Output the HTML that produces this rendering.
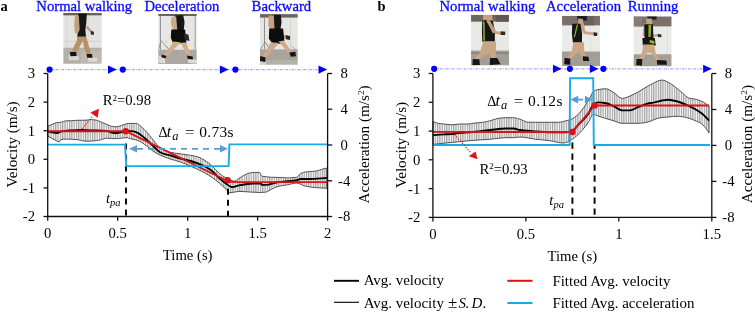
<!DOCTYPE html>
<html><head><meta charset="utf-8"><style>
html,body{margin:0;padding:0;background:#fff;width:755px;height:312px;overflow:hidden}
svg{display:block;will-change:transform}
text{font-family:"Liberation Serif", serif;}
</style></head><body>
<svg width="755" height="312" viewBox="0 0 755 312">
<defs>
<pattern id="stripe" patternUnits="userSpaceOnUse" width="2.3" height="10">
<rect width="2.3" height="10" fill="#f6f6f6"/>
<rect x="0" width="1.15" height="10" fill="#a2a2a2"/>
</pattern>
<filter id="soft" x="-5%" y="-5%" width="110%" height="110%"><feGaussianBlur stdDeviation="3.8"/></filter>
</defs>

<clipPath id="c1"><rect x="42" y="25" width="193" height="255"/></clipPath>
<g transform="translate(55,8) scale(0.19869)"><g clip-path="url(#c1)" filter="url(#soft)">
<rect x="0" y="0" width="260" height="300" fill="#e3e3e1" />
<rect x="0" y="20" width="260" height="17" fill="#6a6058" />
<rect x="58" y="38" width="3" height="162" fill="#cdcdcd" />
<rect x="165" y="38" width="3" height="162" fill="#d2d2d2" />
<rect x="0" y="165" width="260" height="5" fill="#cfcfcf" />
<rect x="0" y="200" width="260" height="90" fill="#b4afa7" />
<rect x="130" y="215" width="130" height="70" fill="#bebab2" />
<polygon points="118,28 160,28 158,70 153,110 156,148 112,150 116,100 113,60" fill="#141414" />
<polygon points="100,40 120,38 124,110 115,130 100,126 97,80" fill="#c49e80" />
<polygon points="153,95 164,91 191,119 183,128" fill="#b89c84" />
<polygon points="180,116 196,119 195,136 180,134" fill="#2a2a35" />
<polygon points="110,144 158,144 163,172 140,168 112,168" fill="#b69363" />
<polygon points="112,160 141,164 108,226 84,229 92,200" fill="#b69363" />
<polygon points="139,160 163,165 182,235 162,240 146,200" fill="#b69363" />
<polygon points="68,238 118,240 121,262 70,263" fill="#d9d7d3" />
<polygon points="165,247 212,250 215,269 168,269" fill="#dbd9d5" />
<polygon points="75,222 106,222 109,241 78,243" fill="#141414" />
<polygon points="159,232 186,231 189,251 162,251" fill="#141414" />
</g></g>
<clipPath id="c2"><rect x="520" y="30" width="193" height="252"/></clipPath>
<g transform="translate(55,8) scale(0.19869)"><g clip-path="url(#c2)" filter="url(#soft)">
<rect x="500" y="0" width="260" height="300" fill="#e6e6e4" />
<rect x="500" y="30" width="260" height="10" fill="#665d55" />
<rect x="528" y="40" width="5" height="172" fill="#8e8e8e" />
<rect x="703" y="40" width="5" height="172" fill="#9c9c9c" />
<polygon points="533,165 536,165 578,210 574,212" fill="#808080" />
<polygon points="533,165 536,165 522,212 518,210" fill="#808080" />
<rect x="557" y="167" width="7" height="7" fill="#d7cf55" />
<rect x="695" y="172" width="7" height="7" fill="#d7cf55" />
<rect x="500" y="210" width="260" height="90" fill="#aca89f" />
<polygon points="602,38 645,35 652,70 648,112 600,112" fill="#141414" />
<polygon points="586,45 610,42 616,118 603,129 583,80" fill="#cfa789" />
<polygon points="585,108 655,108 661,175 595,181 583,150" fill="#0f0f0f" />
<polygon points="646,128 671,133 677,166 655,161" fill="#2c2c2c" />
<polygon points="590,169 630,172 628,182 590,181" fill="#cfc64a" />
<polygon points="592,176 629,178 576,230 549,249 539,236 570,212" fill="#d2aa8d" />
<polygon points="632,175 661,174 681,234 689,250 668,253 655,220" fill="#d2aa8d" />
<polygon points="523,240 556,248 553,279 521,276" fill="#dadada" />
<polygon points="538,234 561,242 556,254 535,248" fill="#141414" />
<polygon points="668,254 712,261 711,279 672,277" fill="#dcdcdc" />
<polygon points="664,239 693,244 694,259 668,257" fill="#141414" />
</g></g>
<clipPath id="c3"><rect x="52" y="30" width="196" height="265"/></clipPath>
<g transform="translate(250,8) scale(0.19231)"><g clip-path="url(#c3)" filter="url(#soft)">
<rect x="0" y="0" width="260" height="320" fill="#e6e6e4" />
<rect x="0" y="32" width="260" height="18" fill="#6c645c" />
<rect x="73" y="50" width="5" height="165" fill="#8d8d8d" />
<rect x="208" y="50" width="3" height="165" fill="#c8c8c8" />
<polygon points="76,175 80,175 107,216 102,218" fill="#888" />
<polygon points="76,175 80,175 56,216 52,214" fill="#888" />
<polygon points="210,195 213,195 248,222 244,224" fill="#999" />
<rect x="0" y="215" width="260" height="90" fill="#a9a59d" />
<rect x="0" y="272" width="260" height="30" fill="#b6b2aa" />
<polygon points="115,35 160,35 164,75 158,112 112,112 108,60" fill="#141414" />
<polygon points="97,40 124,38 128,118 115,136 95,90" fill="#c89f81" />
<polygon points="127,111 196,149 190,161 121,126" fill="#c9a385" />
<polygon points="185,141 209,146 208,166 187,163" fill="#2c2c2c" />
<polygon points="100,106 172,106 179,170 160,186 118,186 98,160" fill="#0f0f0f" />
<polygon points="108,178 151,182 88,252 70,271 57,258 82,225" fill="#d0a88b" />
<polygon points="148,174 176,169 216,228 229,242 212,251 190,222" fill="#d0a88b" />
<polygon points="48,272 83,279 81,296 48,294" fill="#d0d0d0" />
<polygon points="54,250 81,258 79,281 51,276" fill="#141414" />
<polygon points="204,232 236,227 239,251 212,253" fill="#141414" />
</g></g>
<clipPath id="c4"><rect x="12" y="5" width="223" height="296"/></clipPath>
<g transform="translate(469,14) scale(0.17007)"><g clip-path="url(#c4)" filter="url(#soft)">
<rect x="0" y="0" width="250" height="320" fill="#e8e8e5" />
<rect x="0" y="5" width="250" height="40" fill="#6e655d" />
<rect x="160" y="5" width="80" height="40" fill="#625952" />
<rect x="0" y="215" width="250" height="100" fill="#a29d95" />
<rect x="0" y="225" width="250" height="10" fill="#8a857d" />
<polygon points="84,5 136,5 140,40 148,100 200,106 204,120 140,118 100,95 82,40" fill="#c8a27e" />
<polygon points="78,39 100,34 140,40 152,100 152,163 78,163 76,100" fill="#131313" />
<polygon points="82,44 92,44 94,157 84,157" fill="#86a030" />
<polygon points="101,44 107,42 148,88 144,94" fill="#86a030" />
<polygon points="100,34 118,30 156,96 150,116 138,110" fill="#c39d7a" />
<polygon points="186,101 214,104 212,124 186,123" fill="#2a2a2a" />
<polygon points="84,160 158,160 160,205 154,238 118,232 62,262 46,280 30,268 64,226" fill="#c8a884" />
<polygon points="126,228 158,226 156,270 130,270" fill="#c8a884" />
<polygon points="22,265 61,266 64,302 20,304" fill="#141414" />
<polygon points="124,259 166,259 186,296 122,300" fill="#141414" />
</g></g>
<clipPath id="c5"><rect x="12" y="5" width="223" height="295"/></clipPath>
<g transform="translate(560,15) scale(0.17007)"><g clip-path="url(#c5)" filter="url(#soft)">
<rect x="0" y="0" width="250" height="320" fill="#eaeae8" />
<rect x="0" y="5" width="250" height="56" fill="#7a7069" />
<rect x="130" y="5" width="70" height="56" fill="#6a625b" />
<rect x="90" y="61" width="3" height="155" fill="#d2d2d2" />
<rect x="178" y="61" width="3" height="155" fill="#d6d6d6" />
<rect x="0" y="215" width="250" height="100" fill="#a29d95" />
<polygon points="100,5 160,8 158,33 104,35" fill="#1e1e24" />
<polygon points="106,21 135,24 138,57 108,58" fill="#c8a282" />
<polygon points="118,55 140,52 150,95 214,106 214,120 140,112 124,85" fill="#caa382" />
<polygon points="197,101 220,104 218,123 199,123" fill="#2b2b30" />
<polygon points="72,52 120,52 130,110 129,163 76,163 70,110" fill="#121212" />
<polygon points="99,55 106,57 88,131 81,129" fill="#93b22e" />
<polygon points="78,160 140,160 142,205 152,248 129,252 112,216 86,236 61,266 38,262 70,212" fill="#caa885" />
<polygon points="27,253 61,256 60,293 25,290" fill="#141414" />
<polygon points="134,242 167,246 172,271 136,270" fill="#141414" />
</g></g>
<clipPath id="c6"><rect x="10" y="8" width="222" height="293"/></clipPath>
<g transform="translate(632,15) scale(0.17007)"><g clip-path="url(#c6)" filter="url(#soft)">
<rect x="0" y="0" width="250" height="320" fill="#eaeae8" />
<rect x="0" y="8" width="250" height="59" fill="#7a7069" />
<rect x="0" y="8" width="60" height="59" fill="#857b73" />
<rect x="205" y="67" width="3" height="165" fill="#d0d0d0" />
<rect x="0" y="231" width="250" height="100" fill="#a29d95" />
<polygon points="89,8 146,8 144,27 92,30" fill="#1e1e24" />
<polygon points="83,21 117,21 120,61 86,62" fill="#c8a282" />
<polygon points="70,50 92,50 88,116 160,112 162,126 84,130 62,122" fill="#caa382" />
<polygon points="151,112 174,114 172,131 153,130" fill="#2b2b30" />
<polygon points="72,55 123,55 126,140 74,140" fill="#121212" />
<polygon points="97,58 113,58 110,130 96,130" fill="#8fb02c" />
<polygon points="61,135 134,135 140,180 64,182" fill="#121212" />
<polygon points="106,146 134,154 130,170 102,162" fill="#8fb02c" />
<polygon points="66,174 130,174 140,230 164,266 146,274 118,226 92,220 62,266 42,262 60,216" fill="#caa885" />
<polygon points="27,259 61,259 58,299 24,294" fill="#141414" />
<polygon points="146,265 202,268 206,293 148,293" fill="#141414" />
</g></g>
<text x="0.6" y="10.7" font-size="14.5" font-weight="bold" fill="#000">a</text>
<text x="377.6" y="10.7" font-size="14.5" font-weight="bold" fill="#000">b</text>
<text x="36.3" y="11.4" font-size="14.7" fill="#0a0aff" stroke="#0a0aff" stroke-width="0.3">Normal walking</text>
<text x="144.4" y="11.4" font-size="14.7" fill="#0a0aff" stroke="#0a0aff" stroke-width="0.3">Deceleration</text>
<text x="251.6" y="11.4" font-size="14.7" fill="#0a0aff" stroke="#0a0aff" stroke-width="0.3">Backward</text>
<text x="439.5" y="11.4" font-size="14.7" fill="#0a0aff" stroke="#0a0aff" stroke-width="0.3">Normal walking</text>
<text x="546" y="11.4" font-size="14.7" fill="#0a0aff" stroke="#0a0aff" stroke-width="0.3">Acceleration</text>
<text x="627.8" y="11.4" font-size="14.7" fill="#0a0aff" stroke="#0a0aff" stroke-width="0.3">Running</text>
<line x1="49.6" y1="69.6" x2="327" y2="69.6" stroke="#2a2aff" stroke-width="1.3" stroke-dasharray="2.6 1.2 0.9 1.2" opacity="0.42"/>
<circle cx="49.6" cy="69.6" r="3.1" fill="#0000ff"/>
<circle cx="122.8" cy="69.6" r="3.1" fill="#0000ff"/>
<circle cx="235.4" cy="69.6" r="3.1" fill="#0000ff"/>
<path d="M108.0,65.5 L116.7,69.6 L108.0,73.69999999999999 Z" fill="#0000ff"/>
<path d="M219.9,65.5 L228.6,69.6 L219.9,73.69999999999999 Z" fill="#0000ff"/>
<path d="M318.5,65.5 L327.2,69.6 L318.5,73.69999999999999 Z" fill="#0000ff"/>
<line x1="434.2" y1="68.8" x2="711" y2="68.8" stroke="#2a2aff" stroke-width="1.3" stroke-dasharray="2.6 1.2 0.9 1.2" opacity="0.42"/>
<circle cx="434.2" cy="68.8" r="3.1" fill="#0000ff"/>
<circle cx="569.9" cy="68.8" r="3.1" fill="#0000ff"/>
<circle cx="603.4" cy="68.8" r="3.1" fill="#0000ff"/>
<path d="M553.0,64.7 L561.7,68.8 L553.0,72.89999999999999 Z" fill="#0000ff"/>
<path d="M589.9,64.7 L598.6,68.8 L589.9,72.89999999999999 Z" fill="#0000ff"/>
<path d="M703.0999999999999,64.7 L711.8,68.8 L703.0999999999999,72.89999999999999 Z" fill="#0000ff"/>
<path d="M47.70,126.30 C48.83,125.79 49.97,125.28 51.10,124.80 C52.83,124.06 54.57,123.04 56.30,122.70 C58.00,122.37 59.70,122.53 61.40,122.20 C62.77,121.93 64.13,120.99 65.50,120.90 C67.53,120.77 69.57,120.82 71.60,120.70 C73.33,120.60 75.07,120.34 76.80,120.30 C79.87,120.23 82.93,120.27 86.00,120.20 C87.70,120.16 89.40,119.60 91.10,119.60 C92.83,119.60 94.57,119.80 96.30,120.20 C98.00,120.59 99.70,121.52 101.40,122.20 C103.10,122.88 104.80,123.62 106.50,124.30 C108.20,124.98 109.90,125.97 111.60,126.30 C113.33,126.63 115.07,126.80 116.80,126.80 C118.50,126.80 120.20,125.82 121.90,125.30 C123.60,124.78 125.30,124.00 127.00,123.70 C128.13,123.50 129.27,123.40 130.40,123.40 C132.23,123.40 134.07,123.40 135.90,123.40 C137.70,123.40 139.50,125.25 141.30,126.70 C143.13,128.17 144.97,130.18 146.80,132.20 C148.60,134.19 150.40,136.50 152.20,138.70 C154.30,141.26 156.40,144.45 158.50,146.50 C162.43,150.35 166.37,151.14 170.30,152.30 C173.70,153.30 177.10,153.29 180.50,153.80 C183.93,154.32 187.37,154.76 190.80,155.40 C193.20,155.85 195.60,156.03 198.00,156.90 C200.33,157.75 202.67,158.98 205.00,160.50 C207.37,162.04 209.73,163.98 212.10,166.10 C214.47,168.22 216.83,171.19 219.20,173.20 C221.53,175.18 223.87,176.83 226.20,178.10 C228.97,179.61 231.73,181.10 234.50,181.10 C235.97,181.10 237.43,179.29 238.90,178.40 C240.73,177.29 242.57,176.02 244.40,175.10 C246.20,174.19 248.00,173.23 249.80,172.90 C251.63,172.57 253.47,172.40 255.30,172.40 C256.73,172.40 258.17,172.40 259.60,172.40 C260.33,172.40 261.07,176.03 261.80,176.20 C263.27,176.53 264.73,176.53 266.20,176.70 C268.00,176.90 269.80,177.30 271.60,177.30 C273.07,177.30 274.53,177.30 276.00,177.30 C279.83,177.30 283.67,177.90 287.50,177.90 C290.60,177.90 293.70,177.70 296.80,177.30 C297.93,177.15 299.07,174.64 300.20,173.80 C301.73,172.67 303.27,172.42 304.80,172.10 C306.73,171.70 308.67,171.68 310.60,171.50 C312.53,171.32 314.47,171.33 316.40,171.00 C318.33,170.67 320.27,169.72 322.20,169.20 C323.73,168.79 325.27,168.44 326.80,168.10 L326.80,188.30 C323.33,188.15 319.87,188.00 316.40,187.70 C314.47,187.53 312.53,187.38 310.60,187.10 C308.67,186.82 306.73,186.51 304.80,186.00 C302.13,185.30 299.47,183.10 296.80,183.10 C293.70,183.10 290.60,184.21 287.50,184.80 C283.67,185.53 279.83,185.57 276.00,187.10 C274.53,187.69 273.07,188.57 271.60,189.30 C269.80,190.20 268.00,191.67 266.20,192.00 C264.37,192.33 262.53,192.50 260.70,192.50 C257.07,192.50 253.43,192.18 249.80,192.00 C246.17,191.82 242.53,191.40 238.90,191.40 C235.93,191.40 232.97,192.80 230.00,192.80 C228.73,192.80 227.47,190.54 226.20,189.40 C223.87,187.30 221.53,184.97 219.20,183.00 C216.83,181.00 214.47,179.17 212.10,177.50 C209.73,175.83 207.37,174.34 205.00,173.00 C202.67,171.68 200.33,170.62 198.00,169.50 C195.60,168.35 193.20,167.25 190.80,166.20 C187.37,164.70 183.93,163.20 180.50,162.00 C177.10,160.81 173.70,160.16 170.30,159.00 C166.87,157.83 163.43,156.70 160.00,155.00 C157.40,153.71 154.80,152.39 152.20,150.50 C150.47,149.24 148.73,147.53 147.00,146.20 C145.10,144.74 143.20,143.28 141.30,142.20 C139.50,141.17 137.70,140.38 135.90,139.80 C134.07,139.21 132.23,139.21 130.40,138.70 C129.27,138.39 128.13,137.60 127.00,137.60 C125.30,137.60 123.60,137.93 121.90,138.10 C120.20,138.27 118.50,138.60 116.80,138.60 C115.07,138.60 113.33,138.60 111.60,138.60 C109.90,138.60 108.20,138.10 106.50,138.10 C104.80,138.10 103.10,139.17 101.40,139.60 C99.70,140.03 98.00,140.53 96.30,140.70 C92.87,141.03 89.43,141.20 86.00,141.20 C82.93,141.20 79.87,139.90 76.80,139.60 C73.37,139.27 69.93,139.10 66.50,139.10 C64.53,139.10 62.57,139.27 60.60,139.60 C60.17,139.67 59.73,142.00 59.30,142.00 C58.30,142.00 57.30,141.17 56.30,140.70 C54.93,140.06 53.57,139.34 52.20,138.60 C50.70,137.78 49.20,136.89 47.70,136.00 Z" fill="url(#stripe)" stroke="#4a4a4a" stroke-width="0.95"/>
<path d="M433.00,121.60 C434.53,122.21 436.07,122.82 437.60,123.20 C439.73,123.73 441.87,123.76 444.00,124.00 C446.67,124.30 449.33,124.80 452.00,124.80 C454.67,124.80 457.33,124.00 460.00,124.00 C462.67,124.00 465.33,124.00 468.00,124.00 C470.33,124.00 472.67,123.28 475.00,123.00 C477.57,122.70 480.13,122.68 482.70,122.30 C485.27,121.92 487.83,121.36 490.40,120.70 C492.93,120.05 495.47,118.85 498.00,118.40 C500.60,117.93 503.20,117.70 505.80,117.70 C508.37,117.70 510.93,117.70 513.50,117.70 C516.07,117.70 518.63,118.89 521.20,119.70 C523.47,120.42 525.73,122.14 528.00,122.20 C530.47,122.27 532.93,122.30 535.40,122.30 C540.53,122.30 545.67,122.30 550.80,122.30 C553.37,122.30 555.93,122.30 558.50,122.30 C561.07,122.30 563.63,121.36 566.20,120.70 C568.03,120.23 569.87,120.01 571.70,119.10 C575.10,117.41 578.50,114.40 581.90,110.10 C584.20,107.19 586.50,103.39 588.80,99.60 C590.27,97.18 591.73,93.47 593.20,92.00 C594.80,90.40 596.40,89.92 598.00,89.60 C600.67,89.07 603.33,88.80 606.00,88.80 C608.67,88.80 611.33,91.20 614.00,92.80 C616.67,94.40 619.33,98.40 622.00,98.40 C624.67,98.40 627.33,97.07 630.00,96.00 C632.67,94.93 635.33,93.47 638.00,92.00 C640.67,90.53 643.33,88.73 646.00,87.20 C648.10,85.99 650.20,84.72 652.30,83.70 C655.43,82.18 658.57,80.10 661.70,80.10 C663.97,80.10 666.23,81.25 668.50,82.40 C670.73,83.53 672.97,85.23 675.20,86.90 C677.47,88.59 679.73,90.64 682.00,92.50 C684.23,94.34 686.47,97.20 688.70,98.00 C690.93,98.80 693.17,98.62 695.40,99.20 C697.67,99.78 699.93,100.37 702.20,101.50 C704.47,102.63 706.73,104.32 709.00,106.00 L709.00,133.00 C707.00,129.98 705.00,126.96 703.00,125.00 C700.67,122.71 698.33,122.12 696.00,121.00 C693.33,119.72 690.67,118.75 688.00,118.00 C684.33,116.97 680.67,116.30 677.00,116.30 C674.00,116.30 671.00,116.70 668.00,117.00 C664.57,117.34 661.13,117.43 657.70,118.30 C654.80,119.03 651.90,120.88 649.00,121.70 C645.33,122.74 641.67,123.30 638.00,123.30 C635.33,123.30 632.67,123.30 630.00,123.30 C627.33,123.30 624.67,123.30 622.00,123.30 C619.33,123.30 616.67,121.70 614.00,120.90 C611.33,120.10 608.67,119.32 606.00,118.50 C603.33,117.68 600.67,116.83 598.00,116.00 C596.40,115.50 594.80,114.50 593.20,114.50 C591.73,114.50 590.27,119.50 588.80,121.70 C586.50,125.15 584.20,128.01 581.90,130.60 C578.50,134.43 575.10,137.50 571.70,139.60 C568.80,141.39 565.90,143.00 563.00,143.00 C558.93,143.00 554.87,141.40 550.80,140.80 C545.67,140.05 540.53,139.83 535.40,139.20 C530.27,138.57 525.13,137.00 520.00,137.00 C517.83,137.00 515.67,137.70 513.50,137.70 C510.93,137.70 508.37,137.70 505.80,137.70 C500.67,137.70 495.53,138.77 490.40,139.20 C485.60,139.60 480.80,139.85 476.00,140.20 C473.33,140.39 470.67,140.57 468.00,140.80 C465.33,141.03 462.67,141.33 460.00,141.60 C457.33,141.87 454.67,142.13 452.00,142.40 C449.33,142.67 446.67,142.92 444.00,143.20 C440.33,143.58 436.67,143.99 433.00,144.40 Z" fill="url(#stripe)" stroke="#4a4a4a" stroke-width="0.95"/>
<path d="M47.70,131.40 C50.90,132.20 54.10,133.00 57.30,133.00 C58.67,133.00 60.03,131.67 61.40,131.40 C64.80,130.73 68.20,130.65 71.60,130.40 C75.03,130.15 78.47,129.90 81.90,129.90 C83.27,129.90 84.63,130.27 86.00,130.30 C89.43,130.37 92.87,130.33 96.30,130.40 C99.70,130.47 103.10,130.57 106.50,130.90 C108.20,131.07 109.90,132.17 111.60,132.50 C113.33,132.83 115.07,133.00 116.80,133.00 C118.50,133.00 120.20,132.40 121.90,132.00 C123.27,131.68 124.63,130.90 126.00,130.90 C127.83,130.90 129.67,130.97 131.50,131.10 C132.97,131.21 134.43,131.63 135.90,132.20 C137.70,132.90 139.50,133.92 141.30,135.20 C143.20,136.55 145.10,138.49 147.00,140.20 C148.73,141.76 150.47,143.39 152.20,145.00 C154.80,147.41 157.40,150.73 160.00,152.30 C163.43,154.37 166.87,154.36 170.30,155.40 C173.70,156.43 177.10,157.57 180.50,158.50 C183.93,159.44 187.37,159.96 190.80,161.00 C193.20,161.73 195.60,162.57 198.00,163.50 C200.33,164.41 202.67,165.26 205.00,166.50 C207.37,167.76 209.73,169.07 212.10,171.00 C214.47,172.93 216.83,175.97 219.20,178.10 C221.53,180.20 223.87,181.99 226.20,183.70 C227.60,184.72 229.00,186.05 230.40,186.60 C231.07,186.86 231.73,187.10 232.40,187.10 C234.57,187.10 236.73,185.87 238.90,185.40 C242.53,184.61 246.17,184.13 249.80,183.80 C253.43,183.47 257.07,183.30 260.70,183.30 C261.07,183.30 261.43,184.90 261.80,184.90 C263.27,184.90 264.73,184.90 266.20,184.90 C269.47,184.90 272.73,183.09 276.00,182.50 C279.83,181.81 283.67,181.73 287.50,181.30 C290.60,180.95 293.70,180.93 296.80,180.20 C297.93,179.93 299.07,179.00 300.20,179.00 C303.67,179.00 307.13,179.00 310.60,179.00 C316.00,179.00 321.40,178.45 326.80,177.90" fill="none" stroke="#000" stroke-width="1.9"/>
<path d="M433.00,135.20 C436.67,134.90 440.33,134.59 444.00,134.40 C446.67,134.26 449.33,134.30 452.00,134.10 C454.67,133.90 457.33,133.10 460.00,132.80 C462.67,132.50 465.33,132.48 468.00,132.30 C470.33,132.14 472.67,132.00 475.00,131.80 C480.13,131.36 485.27,130.55 490.40,130.00 C495.53,129.45 500.67,128.50 505.80,128.50 C508.37,128.50 510.93,128.50 513.50,128.50 C515.67,128.50 517.83,129.63 520.00,130.00 C522.57,130.44 525.13,130.55 527.70,130.80 C530.27,131.05 532.83,131.30 535.40,131.50 C540.53,131.90 545.67,132.30 550.80,132.30 C555.93,132.30 561.07,132.30 566.20,132.30 C568.13,132.30 570.07,131.87 572.00,131.00 C574.40,129.92 576.80,126.24 579.20,123.70 C582.40,120.32 585.60,118.21 588.80,113.00 C590.27,110.61 591.73,106.27 593.20,104.80 C594.80,103.20 596.40,102.40 598.00,102.40 C600.67,102.40 603.33,102.67 606.00,103.20 C608.67,103.73 611.33,105.20 614.00,106.40 C616.67,107.60 619.33,110.40 622.00,110.40 C624.67,110.40 627.33,110.40 630.00,110.40 C632.67,110.40 635.33,108.23 638.00,107.20 C641.67,105.79 645.33,103.76 649.00,103.20 C650.10,103.03 651.20,103.04 652.30,102.90 C655.53,102.48 658.77,101.06 662.00,100.50 C664.17,100.13 666.33,99.70 668.50,99.70 C671.50,99.70 674.50,100.65 677.50,101.50 C680.50,102.35 683.50,103.49 686.50,104.80 C689.47,106.10 692.43,107.54 695.40,109.30 C697.67,110.65 699.93,111.92 702.20,113.80 C704.47,115.68 706.73,118.14 709.00,120.60" fill="none" stroke="#000" stroke-width="1.9"/>
<path d="M47.7,131.2 L125.8,131.2 L228.5,181.5 L236,182.1 L327,182.1" fill="none" stroke="#dc1219" stroke-width="1.9" stroke-linejoin="round"/>
<path d="M433,131.9 L572.4,132 L594.6,105.5 L709,105.5" fill="none" stroke="#dc1219" stroke-width="1.9" stroke-linejoin="round"/>
<line x1="126" y1="143.6" x2="126" y2="216.5" stroke="#000" stroke-width="1.9" stroke-dasharray="6 5"/>
<line x1="228" y1="188.8" x2="228" y2="216.5" stroke="#000" stroke-width="1.9" stroke-dasharray="6 5"/>
<line x1="572.4" y1="142.6" x2="572.4" y2="217.4" stroke="#000" stroke-width="1.9" stroke-dasharray="6.2 4.8"/>
<line x1="594.6" y1="145.6" x2="594.6" y2="217.4" stroke="#000" stroke-width="1.9" stroke-dasharray="6.2 4.8" stroke-dashoffset="3"/>
<path d="M47.7,144.6 L125,144.6 L126.3,166.1 L228.6,166.1 L229.4,144.4 L327,144.4" fill="none" stroke="#19aae8" stroke-width="1.9"/>
<path d="M433,145 L569.6,145 L570.1,78.3 L593.2,78.3 L593.8,145 L710,145" fill="none" stroke="#19aae8" stroke-width="1.9"/>
<circle cx="125.8" cy="131.2" r="3.2" fill="#dc1219"/>
<circle cx="227.7" cy="180.2" r="3.2" fill="#dc1219"/>
<circle cx="572.4" cy="132" r="3.2" fill="#dc1219"/>
<circle cx="594.6" cy="105.5" r="3.2" fill="#dc1219"/>
<line x1="137" y1="148.8" x2="220" y2="148.8" stroke="#5b9bd5" stroke-width="1.7" stroke-dasharray="6 5" stroke-dashoffset="0"/>
<path d="M129,148.8 L137,145 L137,152.6 Z" fill="#5b9bd5"/>
<path d="M228,148.8 L220,145 L220,152.6 Z" fill="#5b9bd5"/>
<line x1="577" y1="99.6" x2="583" y2="99.6" stroke="#5b9bd5" stroke-width="1.8"/>
<path d="M570.4,99.6 L578.1,95.8 L578.1,103.5 Z" fill="#5b9bd5"/>
<path d="M592.6,99.6 L584.9,95.8 L584.9,103.5 Z" fill="#5b9bd5"/>
<line x1="82.2" y1="128.8" x2="93" y2="115.5" stroke="#dc1219" stroke-width="1.15" stroke-dasharray="1.5 1.3" opacity="0.85"/>
<path d="M99,108.7 L90.4,112.5 L97.6,117.8 Z" fill="#dc1219"/>
<line x1="454.4" y1="134.4" x2="471" y2="153" stroke="#dc1219" stroke-width="1.15" stroke-dasharray="1.5 1.3" opacity="0.85"/>
<path d="M477.5,159.2 L468.8,156.3 L475.6,151.5 Z" fill="#dc1219"/>
<path d="M47.7,73.5 V216.5 H327.6 V73.5" fill="none" stroke="#111" stroke-width="1.3"/>
<line x1="43.5" y1="73.5" x2="47.7" y2="73.5" stroke="#111" stroke-width="1.3"/>
<line x1="327.6" y1="73.5" x2="332.20000000000005" y2="73.5" stroke="#111" stroke-width="1.3"/>
<line x1="43.5" y1="102.1" x2="47.7" y2="102.1" stroke="#111" stroke-width="1.3"/>
<line x1="327.6" y1="109.2" x2="332.20000000000005" y2="109.2" stroke="#111" stroke-width="1.3"/>
<line x1="43.5" y1="130.7" x2="47.7" y2="130.7" stroke="#111" stroke-width="1.3"/>
<line x1="327.6" y1="145.0" x2="332.20000000000005" y2="145.0" stroke="#111" stroke-width="1.3"/>
<line x1="43.5" y1="159.3" x2="47.7" y2="159.3" stroke="#111" stroke-width="1.3"/>
<line x1="327.6" y1="180.8" x2="332.20000000000005" y2="180.8" stroke="#111" stroke-width="1.3"/>
<line x1="43.5" y1="187.9" x2="47.7" y2="187.9" stroke="#111" stroke-width="1.3"/>
<line x1="327.6" y1="216.5" x2="332.20000000000005" y2="216.5" stroke="#111" stroke-width="1.3"/>
<line x1="43.5" y1="216.5" x2="47.7" y2="216.5" stroke="#111" stroke-width="1.3"/>
<line x1="47.7" y1="216.5" x2="47.7" y2="220.7" stroke="#111" stroke-width="1.3"/>
<line x1="117.7" y1="216.5" x2="117.7" y2="220.7" stroke="#111" stroke-width="1.3"/>
<line x1="187.7" y1="216.5" x2="187.7" y2="220.7" stroke="#111" stroke-width="1.3"/>
<line x1="257.6" y1="216.5" x2="257.6" y2="220.7" stroke="#111" stroke-width="1.3"/>
<line x1="327.6" y1="216.5" x2="327.6" y2="220.7" stroke="#111" stroke-width="1.3"/>
<path d="M432.9,73.5 V217.4 H711.8 V73.5" fill="none" stroke="#111" stroke-width="1.3"/>
<line x1="428.7" y1="73.5" x2="432.9" y2="73.5" stroke="#111" stroke-width="1.3"/>
<line x1="711.8" y1="73.5" x2="716.4" y2="73.5" stroke="#111" stroke-width="1.3"/>
<line x1="428.7" y1="102.3" x2="432.9" y2="102.3" stroke="#111" stroke-width="1.3"/>
<line x1="711.8" y1="109.5" x2="716.4" y2="109.5" stroke="#111" stroke-width="1.3"/>
<line x1="428.7" y1="131.1" x2="432.9" y2="131.1" stroke="#111" stroke-width="1.3"/>
<line x1="711.8" y1="145.4" x2="716.4" y2="145.4" stroke="#111" stroke-width="1.3"/>
<line x1="428.7" y1="159.8" x2="432.9" y2="159.8" stroke="#111" stroke-width="1.3"/>
<line x1="711.8" y1="181.4" x2="716.4" y2="181.4" stroke="#111" stroke-width="1.3"/>
<line x1="428.7" y1="188.6" x2="432.9" y2="188.6" stroke="#111" stroke-width="1.3"/>
<line x1="711.8" y1="217.4" x2="716.4" y2="217.4" stroke="#111" stroke-width="1.3"/>
<line x1="428.7" y1="217.4" x2="432.9" y2="217.4" stroke="#111" stroke-width="1.3"/>
<line x1="432.9" y1="217.4" x2="432.9" y2="221.6" stroke="#111" stroke-width="1.3"/>
<line x1="525.9" y1="217.4" x2="525.9" y2="221.6" stroke="#111" stroke-width="1.3"/>
<line x1="618.8" y1="217.4" x2="618.8" y2="221.6" stroke="#111" stroke-width="1.3"/>
<line x1="711.8" y1="217.4" x2="711.8" y2="221.6" stroke="#111" stroke-width="1.3"/>
<text x="35.1" y="78.4" font-size="14.7" text-anchor="end">3</text>
<text x="35.1" y="107.0" font-size="14.7" text-anchor="end">2</text>
<text x="35.1" y="135.6" font-size="14.7" text-anchor="end">1</text>
<text x="35.1" y="164.2" font-size="14.7" text-anchor="end">0</text>
<text x="35.1" y="192.8" font-size="14.7" text-anchor="end">-1</text>
<text x="35.1" y="221.4" font-size="14.7" text-anchor="end">-2</text>
<text x="344.20000000000005" y="78.4" font-size="14.7" text-anchor="middle">8</text>
<text x="344.20000000000005" y="114.2" font-size="14.7" text-anchor="middle">4</text>
<text x="344.20000000000005" y="149.9" font-size="14.7" text-anchor="middle">0</text>
<text x="344.20000000000005" y="185.7" font-size="14.7" text-anchor="middle">-4</text>
<text x="344.20000000000005" y="221.4" font-size="14.7" text-anchor="middle">-8</text>
<text x="420.29999999999995" y="78.4" font-size="14.7" text-anchor="end">3</text>
<text x="420.29999999999995" y="107.2" font-size="14.7" text-anchor="end">2</text>
<text x="420.29999999999995" y="136.0" font-size="14.7" text-anchor="end">1</text>
<text x="420.29999999999995" y="164.7" font-size="14.7" text-anchor="end">0</text>
<text x="420.29999999999995" y="193.5" font-size="14.7" text-anchor="end">-1</text>
<text x="420.29999999999995" y="222.3" font-size="14.7" text-anchor="end">-2</text>
<text x="728.4" y="78.4" font-size="14.7" text-anchor="middle">8</text>
<text x="728.4" y="114.4" font-size="14.7" text-anchor="middle">4</text>
<text x="728.4" y="150.3" font-size="14.7" text-anchor="middle">0</text>
<text x="728.4" y="186.3" font-size="14.7" text-anchor="middle">-4</text>
<text x="728.4" y="222.3" font-size="14.7" text-anchor="middle">-8</text>
<text x="47.7" y="238.3" font-size="14.7" text-anchor="middle">0</text>
<text x="117.7" y="238.3" font-size="14.7" text-anchor="middle">0.5</text>
<text x="187.7" y="238.3" font-size="14.7" text-anchor="middle">1</text>
<text x="257.6" y="238.3" font-size="14.7" text-anchor="middle">1.5</text>
<text x="327.6" y="238.3" font-size="14.7" text-anchor="middle">2</text>
<text x="432.9" y="239.0" font-size="14.7" text-anchor="middle">0</text>
<text x="525.9" y="239.0" font-size="14.7" text-anchor="middle">0.5</text>
<text x="618.8" y="239.0" font-size="14.7" text-anchor="middle">1</text>
<text x="711.8" y="239.0" font-size="14.7" text-anchor="middle">1.5</text>
<text x="187.7" y="259.8" font-size="14.7" text-anchor="middle">Time (s)</text>
<text x="572.3" y="260.6" font-size="14.7" text-anchor="middle">Time (s)</text>
<text transform="translate(17.3,144.4) rotate(-90) scale(1.03,1)" font-size="14.7" text-anchor="middle">Velocity (m/s)</text>
<text transform="translate(406.2,145.0) rotate(-90) scale(1.03,1)" font-size="14.7" text-anchor="middle">Velocity (m/s)</text>
<text transform="translate(368.7,144.4) rotate(-90) scale(1.035,1)" font-size="14.7" text-anchor="middle">Acceleration (m/s<tspan font-size="9" dy="-4.4">2</tspan><tspan dy="4.4">)</tspan></text>
<text transform="translate(751.8,144.1) rotate(-90) scale(1.035,1)" font-size="14.7" text-anchor="middle">Acceleration (m/s<tspan font-size="9" dy="-4.4">2</tspan><tspan dy="4.4">)</tspan></text>
<text x="102.7" y="105.1" font-size="14.7">R<tspan font-size="9" dy="-4.4">2</tspan><tspan dy="4.4">=0.98</tspan></text>
<text x="479.4" y="173.7" font-size="14.7">R<tspan font-size="9" dy="-4.4">2</tspan><tspan dy="4.4">=0.93</tspan></text>
<text x="158.5" y="137.1" font-size="14.2">Δ</text>
<text x="166.7" y="137.1" font-size="16.2" font-style="italic">t</text>
<text x="172.29999999999998" y="140.1" font-size="12.5" font-style="italic">a</text>
<text x="0" y="0" font-size="15.5" transform="translate(184.89999999999998,137.1) scale(1.08,1)">=</text>
<text x="199.29999999999998" y="137.1" font-size="15.5" letter-spacing="0.3">0.73s</text>
<text x="487.3" y="105.5" font-size="14.2">Δ</text>
<text x="495.5" y="105.5" font-size="16.2" font-style="italic">t</text>
<text x="501.1" y="108.5" font-size="12.5" font-style="italic">a</text>
<text x="0" y="0" font-size="15.5" transform="translate(513.7,105.5) scale(1.08,1)">=</text>
<text x="528.1" y="105.5" font-size="15.5" letter-spacing="0.3">0.12s</text>
<text x="106" y="202.5" font-size="14.7" font-style="italic">t<tspan font-size="10.5" dy="3">pa</tspan></text>
<text x="549.3" y="205.4" font-size="14.7" font-style="italic">t<tspan font-size="10.5" dy="3">pa</tspan></text>
<line x1="334" y1="280.8" x2="359" y2="280.8" stroke="#000" stroke-width="1.9"/>
<text x="363.7" y="285.2" font-size="14.95">Avg. velocity</text>
<line x1="334" y1="302.3" x2="359" y2="302.3" stroke="#000" stroke-width="1.1"/>
<text x="363.7" y="307.5" font-size="14.95">Avg. velocity</text>
<text x="447.9" y="308.3" font-size="17">±</text>
<text x="458.4" y="307.5" font-size="14.95" font-style="italic">S</text>
<text x="465.3" y="307.5" font-size="14.95">.</text>
<text x="471.5" y="307.5" font-size="14.95" font-style="italic">D</text>
<text x="482.6" y="307.5" font-size="14.95">.</text>
<line x1="507.3" y1="280.8" x2="532.5" y2="280.8" stroke="#dc1219" stroke-width="2"/>
<text x="552.4" y="285.6" font-size="14.95">Fitted Avg. velocity</text>
<line x1="507.3" y1="303" x2="532.5" y2="303" stroke="#19aae8" stroke-width="2"/>
<text x="552.4" y="307.8" font-size="14.95">Fitted Avg. acceleration</text>
</svg></body></html>
